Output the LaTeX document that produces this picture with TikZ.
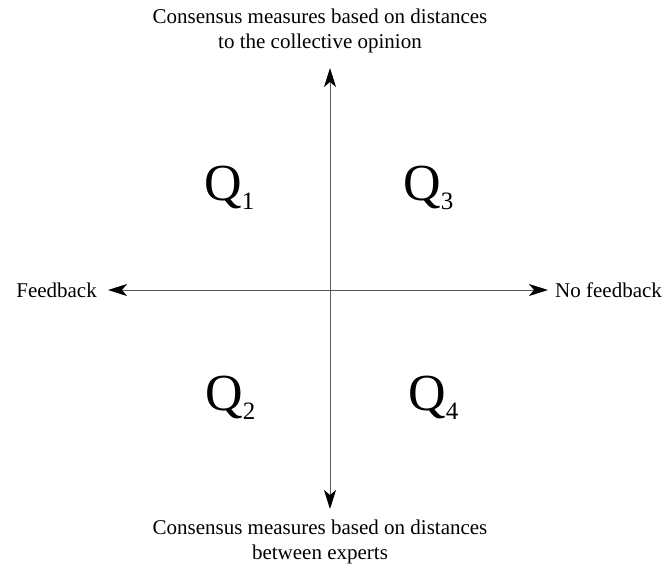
\documentclass[tikz,border=0pt]{standalone}
\usepackage{fontspec}
\setmainfont{Liberation Serif}
\newfontfamily\quadfont{Liberation Serif}
\usetikzlibrary{positioning,arrows.meta}
\newcommand{\qlab}[1]{Q\raisebox{-9pt}{\fontsize{25}{25}\selectfont #1}}

\begin{document}
\begin{tikzpicture}[x=1pt, y=-1pt, font=\fontsize{21}{25}\selectfont, tip/.style={Stealth[length=19pt, width=12pt, inset=5pt, black]}, axis/.style={{Stealth[length=19pt, width=12pt, inset=5pt, black]}-{Stealth[length=19pt, width=12pt, inset=5pt, black]}, line width=1pt, black!65}, caption/.style={align=center, inner sep=0pt}, quadrant/.style={anchor=base west, inner sep=0pt, font=\quadfont\fontsize{52}{52}\selectfont}, side/.style={inner sep=0pt}]
\useasboundingbox (0,0) rectangle (669,570);
\coordinate (top) at (330,68);
\coordinate (bottom) at (330,509);
\coordinate (left) at (108,290);
\coordinate (right) at (548,290);
\draw[axis] (bottom) -- (top);
\draw[axis] (left) -- (right);
\node[caption] (upper) at (320,31) {Consensus measures based on distances\\to the collective opinion};
\node[caption] (lower) at (320,542) {Consensus measures based on distances\\between experts};
\node[side, anchor=east] (feedback) at (97,290) {Feedback};
\node[side, anchor=west] (nofeedback) at (555,290) {No feedback};
\node[quadrant] (q1) at (204,200) {\qlab{1}};
\node[quadrant] (q3) at (403,200) {\qlab{3}};
\node[quadrant] (q2) at (205,410) {\qlab{2}};
\node[quadrant] (q4) at (408,410) {\qlab{4}};
\end{tikzpicture}
\end{document}
